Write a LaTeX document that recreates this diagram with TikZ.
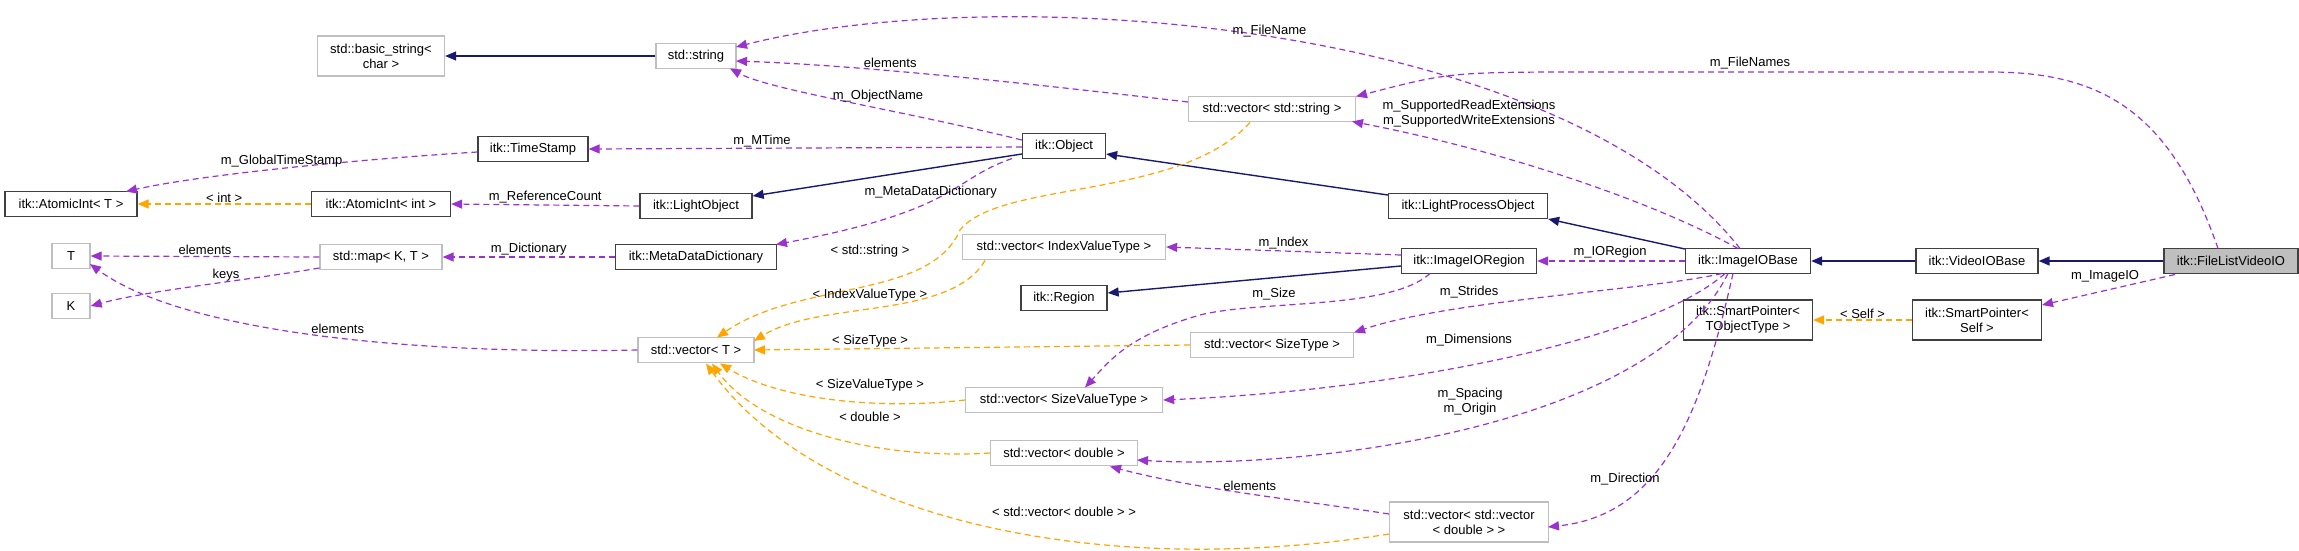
\documentclass[tikz,border=0pt]{standalone}
\usepackage{fontspec}
\setmainfont{Liberation Sans}
\usetikzlibrary{arrows.meta}
\definecolor{purp}{HTML}{9A32CD}
\definecolor{navy}{HTML}{191970}
\definecolor{orng}{HTML}{FFA500}
\definecolor{gbord}{HTML}{BFBFBF}
\begin{document}
\begin{tikzpicture}[x=1pt,y=-1pt,
  every node/.style={font=\fontsize{13}{15}\selectfont},
  box/.style={draw=black!75,line width=1.3pt,minimum height=25pt,inner sep=2pt,align=center},
  sbox/.style={box,draw=gbord},
  two/.style={minimum height=40pt},
  lab/.style={inner sep=1pt,align=center},
  use/.style={draw=purp,dashed,dash pattern=on 6pt off 4pt,line width=1.2pt,-{Triangle[length=11pt,width=9pt]}},
  tpl/.style={draw=orng,dashed,dash pattern=on 6pt off 4pt,line width=1.2pt,-{Triangle[length=11pt,width=9pt]}},
  inh/.style={draw=navy,line width=1.4pt,-{Triangle[length=11pt,width=9pt]}}]
\useasboundingbox (0,0) rectangle (2299,550);
% nodes
\node[sbox,two,minimum width=127pt] (bstr) at (381,56) {std::basic\_string<\\char >};
\node[sbox,minimum width=80pt] (str) at (696,56) {std::string};
\node[box,minimum width=110pt] (ts) at (533,149) {itk::TimeStamp};
\node[box,minimum width=132pt] (aiT) at (71,204) {itk::AtomicInt< T >};
\node[box,minimum width=139pt] (aii) at (381,204) {itk::AtomicInt< int >};
\node[box,minimum width=112pt] (lo) at (696,206) {itk::LightObject};
\node[sbox,minimum width=38pt] (T) at (71,256) {T};
\node[sbox,minimum width=122pt] (map) at (381,257) {std::map< K, T >};
\node[box,minimum width=161pt] (mdd) at (696,257) {itk::MetaDataDictionary};
\node[sbox,minimum width=38pt] (K) at (71,306) {K};
\node[sbox,minimum width=116pt] (vT) at (696,350) {std::vector< T >};
\node[box,minimum width=83pt] (obj) at (1064,146) {itk::Object};
\node[sbox,minimum width=167pt] (vs) at (1272,109) {std::vector< std::string >};
\node[box,minimum width=159pt] (lpo) at (1468,206) {itk::LightProcessObject};
\node[sbox,minimum width=203pt] (vi) at (1064,247) {std::vector< IndexValueType >};
\node[box,minimum width=135pt] (ior) at (1469,261) {itk::ImageIORegion};
\node[box,minimum width=86pt] (reg) at (1064,298) {itk::Region};
\node[sbox,minimum width=163pt] (vst) at (1272,345) {std::vector< SizeType >};
\node[sbox,minimum width=197pt] (vsv) at (1064,400) {std::vector< SizeValueType >};
\node[sbox,minimum width=147pt] (vd) at (1064,453) {std::vector< double >};
\node[sbox,two,minimum width=159pt] (vvd) at (1469,522) {std::vector< std::vector\\< double > >};
\node[box,minimum width=125pt] (iob) at (1748,261) {itk::ImageIOBase};
\node[box,minimum width=122pt] (vio) at (1977,261) {itk::VideoIOBase};
\node[box,fill=gbord,minimum width=134pt] (fl) at (2231,261) {itk::FileListVideoIO};
\node[box,two,minimum width=129pt] (spT) at (1748,320) {itk::SmartPointer<\\TObjectType >};
\node[box,two,minimum width=129pt] (spS) at (1977,320) {itk::SmartPointer<\\Self >};
% inheritance
\draw[inh] (str.west) -- (bstr.east);
\draw[inh] (obj.west |- 0,154) -- (lo.east |- 0,196);
\draw[inh] (lpo.west |- 0,195) -- (obj.east |- 0,154);
\draw[inh] (iob.west |- 0,249) -- (lpo.east |- 0,219);
\draw[inh] (ior.west |- 0,266) -- (reg.east |- 0,293);
\draw[inh] (vio.west) -- (iob.east);
\draw[inh] (fl.west) -- (vio.east);
% usage
\draw[use] (ts.west |- 0,152) .. controls (350,160) and (200,175) .. (126,191.5) node[lab,pos=0.5,above] {m\_GlobalTimeStamp};
\draw[tpl] (aii.west) -- (aiT.east) node[lab,midway,above] {< int >};
\draw[use] (lo.west) -- (aii.east) node[lab,midway,above] {m\_ReferenceCount};
\draw[use] (obj.west |- 0,147) -- (ts.east) node[lab,pos=0.6,above] {m\_MTime};
\draw[use] (obj.west |- 0,140) .. controls (900,110) and (770,90) .. (730,68.5) node[lab,pos=0.4,above=4pt] {m\_ObjectName};
\draw[use] (1012,158.5) .. controls (950,180) and (960,210) .. (776,244.5) node[lab,pos=0.6,left=-10pt,above=6pt] {m\_MetaDataDictionary};
\draw[use] (mdd.west) -- (map.east) node[lab,midway,above] {m\_Dictionary};
\draw[use] (map.west) -- (T.east) node[lab,midway,above] {elements};
\draw[use] (map.west |- 0,268) .. controls (250,280) and (150,290) .. (K.east) node[lab,pos=0.4,above=-1pt] {keys};
\draw[use] (vT.west) .. controls (400,355) and (180,330) .. (90,264) node[lab,pos=0.45,above=2pt] {elements};
\draw[use] (vs.west |- 0,102) .. controls (1000,80) and (850,65) .. (736,61) node[lab,pos=0.6,above=2pt] {elements};
\draw[use] (1740,248.5) .. controls (1560,20) and (1000,-20) .. (736,47) node[lab,pos=0.5,above=-2pt] {m\_FileName};
\draw[use] (2218,248.5) .. controls (2170,110) and (2100,72) .. (1990,72) -- (1600,72) .. controls (1450,72) .. (1356,96.5) node[lab,pos=0.2,above=18pt] {};
\node[lab] (lfn) at (1750,63) {m\_FileNames};
\draw[use] (1738,248.5) .. controls (1650,200) and (1500,150) .. (1352,121.5);
\node[lab] (lsup) at (1469,114) {m\_SupportedReadExtensions\\m\_SupportedWriteExtensions};
\draw[use] (ior.west |- 0,255) -- (vi.east) node[lab,midway,above] {m\_Index};
\draw[use] (iob.west) -- (ior.east);
\node[lab] (lio) at (1610,252) {m\_IORegion};
\draw[use] (1430,273.5) .. controls (1390,310) and (1260,300) .. (1200,315) .. controls (1130,335) and (1110,360) .. (1085,387.5);
\node[lab] (lsz) at (1274,294) {m\_Size};
\draw[use] (1722,273.5) .. controls (1650,290) and (1450,300) .. (1354,332.5);
\node[lab] (lstr) at (1469,292) {m\_Strides};
\draw[use] (1725,273.5) .. controls (1650,340) and (1400,390) .. (vsv.east);
\node[lab] (ldim) at (1469,340) {m\_Dimensions};
\draw[use] (1728,273.5) .. controls (1650,430) and (1300,470) .. (1137,460);
\node[lab] (lsp) at (1470,402) {m\_Spacing\\m\_Origin};
\draw[use] (1733,273.5) .. controls (1700,420) and (1660,515) .. (1548,527);
\node[lab] (ldir) at (1625,479) {m\_Direction};
\draw[use] (vvd.west |- 0,514) .. controls (1300,500) and (1200,490) .. (1110,466.5) node[lab,pos=0.5,above=2pt] {elements};
\draw[use] (2175,274.5) -- (2042,305) node[lab,pos=0.3,below left=0pt] {};
\node[lab] (limg) at (2105,276) {m\_ImageIO};
\draw[tpl] (spS.west) -- (spT.east) node[lab,midway,above] {< Self >};
% templates
\draw[tpl] (1250,122.5) .. controls (1180,200) and (1000,180) .. (960,230) .. controls (930,300) and (800,280) .. (717,337.5);
\node[lab] (l1) at (870,251) {< std::string >};
\draw[tpl] (985,260.5) .. controls (950,320) and (820,300) .. (754,341);
\node[lab] (l2) at (870,295) {< IndexValueType >};
\draw[tpl] (vst.west) -- (754,350) ;
\node[lab] (l3) at (870,341) {< SizeType >};
\draw[tpl] (vsv.west) .. controls (880,410) and (780,400) .. (720,363.5);
\node[lab] (l4) at (870,385) {< SizeValueType >};
\draw[tpl] (vd.west) .. controls (880,460) and (760,430) .. (712,363.5);
\node[lab] (l5) at (870,417) {< double >};
\draw[tpl] (1389,534) .. controls (1100,580) and (820,520) .. (706,363.5);
\node[lab] (l6) at (1064,512) {< std::vector< double > >};
\end{tikzpicture}
\end{document}
